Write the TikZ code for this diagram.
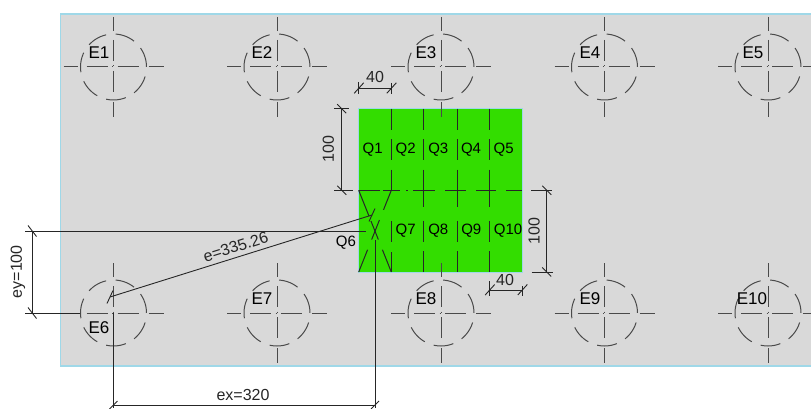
\documentclass[tikz,border=0pt]{standalone}
\usepackage{fontspec}
\setmainfont{Liberation Sans}
\definecolor{plategray}{HTML}{D9D9D9}
\definecolor{plateedge}{HTML}{9FD8E8}
\definecolor{zonegreen}{HTML}{33DD00}
\definecolor{inkgray}{HTML}{4A4A4A}
\tikzset{
    holelabel/.style={inner sep=0pt,font=\fontsize{17}{17}\selectfont},
    zonelabel/.style={inner sep=0pt,font=\fontsize{15}{15}\selectfont},
    dimlabel/.style={inner sep=0pt,text=black!85,font=\fontsize{16}{16}\selectfont},
    dimline/.style={line width=0.9pt,draw=black!85},
    gridline/.style={line width=1pt,draw=black!85},
    axisline/.style={line width=1pt,draw=inkgray,dash pattern=on 14pt off 9pt on 21pt off 4.5pt on 1pt off 4.5pt on 21pt off 10pt on 15pt},
    holeline/.style={line width=1pt,draw=inkgray,dash pattern=on 20pt off 9.6pt,dash phase=20pt},
}
\begin{document}
\begin{tikzpicture}[x=1pt,y=-1pt]
    \useasboundingbox (0,0) rectangle (811,409);
    \clip (0,0) rectangle (811,409);
    %% plate and loaded zone
    \draw[fill=plategray,draw=plateedge,line width=1.2pt] (60.5,14) rectangle (830,366);
    \draw[fill=zonegreen,draw=plateedge,line width=0.5pt] (358.7,108.7) rectangle (522.3,272);
    %% fixings
    \foreach \y in {67,313}
        \foreach \x in {113.5,277,441,604.5,768} {
            \draw[holeline] (\x,\y) circle (33);
            \draw[axisline] (\x-50,\y) -- (\x+50,\y);
            \draw[axisline] (\x,\y-50) -- (\x,\y+50);
        }
    \foreach \n/\x in {1/99,2/262,3/426,4/590,5/753}
        \node[holelabel] (E\n) at (\x,53) {E\n};
    \node[holelabel] (E6) at (99,328) {E6};
    \foreach \n/\x in {7/262,8/426,9/590,10/752}
        \node[holelabel] (E\n) at (\x,299) {E\n};
    %% zone grid
    \foreach \x in {423.7,457,489.7}
        \draw[gridline,dash pattern=on 21pt off 9.5pt on 21pt off 9.5pt on 37pt off 14pt on 21pt off 9.5pt on 21pt]
            (\x,108.7) -- (\x,272);
    \draw[gridline,dash pattern=on 21pt off 9.5pt on 21pt off 9.5pt on 21pt] (391.3,108.7) -- (391.3,190.3);
    \draw[gridline] (391.3,221) -- (391.3,242) (391.3,252) -- (391.3,272);
    \draw[gridline,dash pattern=on 19pt off 5.7pt on 21.3pt off 3pt on 17pt off 6pt on 1.5pt off 5.5pt on 22pt off 10pt on 21pt off 10pt on 20pt off 10pt on 16pt off 9pt on 21pt]
        (334,190.3) -- (553,190.3);
    %% crossed cell
    \draw[gridline,dash pattern=on 28pt off 5pt on 20pt off 11pt on 24pt] (358.7,190.3) -- (391.3,272);
    \draw[gridline,dash pattern=on 21pt off 11pt on 21pt off 11pt on 24pt] (391.3,190.3) -- (358.7,272);
    %% cells
    \foreach \n/\x in {1/372.7,2/405.7,3/438.3,4/471,5/503.7}
        \node[zonelabel] (Q\n) at (\x,149.3) {Q\n};
    \node[zonelabel] (Q6) at (346,242.3) {Q6};
    \foreach \n/\x in {7/405.7,8/438.3,9/471.3,10/508}
        \node[zonelabel] (Q\n) at (\x,231) {Q\n};
    %% offsets of the crossed cell
    \coordinate (eyA) at (32,231);
    \coordinate (eyB) at (32,313);
    \coordinate (exA) at (113.5,405);
    \coordinate (exB) at (375,405);
    \coordinate (eA) at (110,297);
    \coordinate (eB) at (372,215);
    \draw[dimline] (25,231) -- (365.7,231);
    \draw[dimline] (25,313) -- (80,313);
    \draw[dimline] (113.5,313) -- (113.5,408);
    \draw[dimline] (375,240) -- (375,408);
    \draw[dimline] (eyA) -- (eyB);
    \draw[dimline] (exA) -- (exB);
    \draw[dimline] (eA) -- (eB);
    \foreach \p in {exA,exB}
        \draw[dimline] (\p) ++(-4,4) -- ++(8,-8);
    \foreach \p in {eyA,eyB}
        \draw[dimline] (\p) ++(-4,-5.5) -- ++(8.5,11);
    \foreach \p in {eA,eB}
        \draw[dimline] (\p) ++(-3,6.5) -- ++(6,-13);
    \node[dimlabel,rotate=90] (eyText) at (18,271.7) {ey=100};
    \node[dimlabel] (exText) at (243,395) {ex=320};
    \node[dimlabel,rotate=17.4] (eText) at (235.7,246.7) {e=335.26};
    %% zone sizes
    \coordinate (topA) at (358.7,88.3);
    \coordinate (topB) at (391.3,88.3);
    \coordinate (botA) at (489.7,290);
    \coordinate (botB) at (522.3,290);
    \coordinate (leftA) at (341.7,108.7);
    \coordinate (leftB) at (341.7,190.3);
    \coordinate (rightA) at (546.7,190.3);
    \coordinate (rightB) at (546.7,272);
    \draw[dimline] (topA) -- (topB);
    \draw[dimline] (botA) -- (botB);
    \draw[dimline] (leftA) -- (leftB);
    \draw[dimline] (rightA) -- (rightB);
    \draw[dimline] (358.7,82) -- (358.7,94) (391.3,83) -- (391.3,94);
    \draw[dimline] (489.7,281) -- (489.7,296) (522.3,286) -- (522.3,296);
    \draw[dimline] (334,108.7) -- (348.7,108.7);
    \draw[dimline] (531.7,272) -- (553,272);
    \foreach \p in {topA,topB,botA,botB}
        \draw[dimline] (\p) ++(-4.5,5) -- ++(9.5,-10.5);
    \foreach \p in {leftA,leftB,rightA,rightB}
        \draw[dimline] (\p) ++(-4.5,-4.5) -- ++(9,9);
    \node[dimlabel] (topText) at (375,77.3) {40};
    \node[dimlabel] (botText) at (505,280) {40};
    \node[dimlabel,rotate=90] (leftText) at (328.3,149.3) {100};
    \node[dimlabel,rotate=90] (rightText) at (534,231) {100};
\end{tikzpicture}
\end{document}
